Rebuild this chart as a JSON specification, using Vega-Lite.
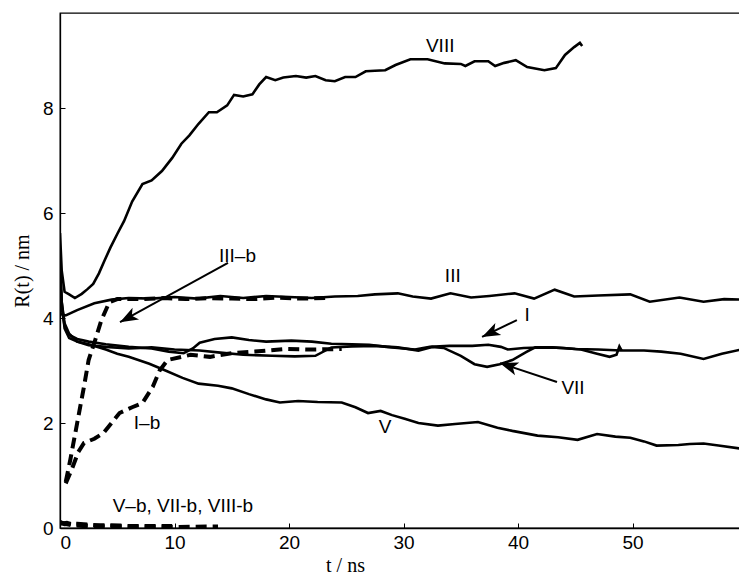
{
  "$schema": "https://vega.github.io/schema/vega-lite/v6.json",
  "width": 681,
  "height": 515,
  "autosize": {"type": "none"},
  "padding": {"left": 60, "top": 13, "right": 0, "bottom": 49},
  "background": "white",
  "view": {"stroke": "black", "strokeWidth": 1.3},
  "config": {
    "axis": {
      "grid": false,
      "domainColor": "black",
      "domainWidth": 1.3,
      "tickColor": "black",
      "tickSize": -5,
      "labelFont": "Liberation Sans",
      "labelFontSize": 19,
      "labelColor": "black",
      "titleFont": "Liberation Serif",
      "titleFontSize": 20,
      "titleFontWeight": "normal",
      "titleColor": "black"
    }
  },
  "datasets": {
    "curves": [
      {"s":"VIII","t":0,"r":5.62},{"s":"VIII","t":0.15,"r":4.9},{"s":"VIII","t":0.4,"r":4.5},{"s":"VIII","t":0.8,"r":4.45},{"s":"VIII","t":1.3,"r":4.38},{"s":"VIII","t":1.9,"r":4.46},{"s":"VIII","t":2.4,"r":4.55},{"s":"VIII","t":2.9,"r":4.65},{"s":"VIII","t":3.4,"r":4.85},{"s":"VIII","t":3.9,"r":5.1},{"s":"VIII","t":4.4,"r":5.34},{"s":"VIII","t":5.0,"r":5.6},{"s":"VIII","t":5.6,"r":5.85},{"s":"VIII","t":6.3,"r":6.22},{"s":"VIII","t":7.2,"r":6.55},{"s":"VIII","t":8.0,"r":6.62},{"s":"VIII","t":8.9,"r":6.8},{"s":"VIII","t":9.8,"r":7.05},{"s":"VIII","t":10.6,"r":7.32},{"s":"VIII","t":11.3,"r":7.48},{"s":"VIII","t":12.1,"r":7.7},{"s":"VIII","t":13.0,"r":7.92},{"s":"VIII","t":13.7,"r":7.92},{"s":"VIII","t":14.6,"r":8.05},{"s":"VIII","t":15.2,"r":8.25},{"s":"VIII","t":16.0,"r":8.22},{"s":"VIII","t":16.8,"r":8.26},{"s":"VIII","t":17.4,"r":8.45},{"s":"VIII","t":18.0,"r":8.59},{"s":"VIII","t":18.8,"r":8.53},{"s":"VIII","t":19.5,"r":8.58},{"s":"VIII","t":20.6,"r":8.61},{"s":"VIII","t":21.5,"r":8.58},{"s":"VIII","t":22.3,"r":8.61},{"s":"VIII","t":23.2,"r":8.53},{"s":"VIII","t":24.0,"r":8.51},{"s":"VIII","t":24.9,"r":8.59},{"s":"VIII","t":25.8,"r":8.59},{"s":"VIII","t":26.7,"r":8.7},{"s":"VIII","t":27.5,"r":8.71},{"s":"VIII","t":28.4,"r":8.72},{"s":"VIII","t":29.3,"r":8.82},{"s":"VIII","t":30.6,"r":8.93},{"s":"VIII","t":32.1,"r":8.93},{"s":"VIII","t":33.6,"r":8.85},{"s":"VIII","t":35.0,"r":8.84},{"s":"VIII","t":35.4,"r":8.8},{"s":"VIII","t":36.2,"r":8.89},{"s":"VIII","t":37.4,"r":8.89},{"s":"VIII","t":38.0,"r":8.8},{"s":"VIII","t":38.8,"r":8.86},{"s":"VIII","t":39.8,"r":8.91},{"s":"VIII","t":40.8,"r":8.78},{"s":"VIII","t":42.3,"r":8.72},{"s":"VIII","t":43.3,"r":8.76},{"s":"VIII","t":44.1,"r":9.01},{"s":"VIII","t":44.9,"r":9.16},{"s":"VIII","t":45.4,"r":9.24},{"s":"VIII","t":45.6,"r":9.18},

      {"s":"III","t":0,"r":4.08},{"s":"III","t":0.5,"r":4.05},{"s":"III","t":1.5,"r":4.15},{"s":"III","t":3,"r":4.28},{"s":"III","t":4.5,"r":4.35},{"s":"III","t":6,"r":4.38},{"s":"III","t":8,"r":4.37},{"s":"III","t":10,"r":4.4},{"s":"III","t":12,"r":4.37},{"s":"III","t":14,"r":4.42},{"s":"III","t":16,"r":4.38},{"s":"III","t":18,"r":4.42},{"s":"III","t":20,"r":4.4},{"s":"III","t":22,"r":4.38},{"s":"III","t":24,"r":4.41},{"s":"III","t":26,"r":4.42},{"s":"III","t":27.5,"r":4.45},{"s":"III","t":29.5,"r":4.47},{"s":"III","t":30.8,"r":4.41},{"s":"III","t":32.4,"r":4.37},{"s":"III","t":34.1,"r":4.47},{"s":"III","t":35.9,"r":4.39},{"s":"III","t":37.5,"r":4.42},{"s":"III","t":39.7,"r":4.47},{"s":"III","t":41.4,"r":4.37},{"s":"III","t":43.2,"r":4.54},{"s":"III","t":44.9,"r":4.41},{"s":"III","t":47,"r":4.43},{"s":"III","t":49.8,"r":4.45},{"s":"III","t":51.5,"r":4.31},{"s":"III","t":54.1,"r":4.39},{"s":"III","t":56.2,"r":4.31},{"s":"III","t":58,"r":4.36},{"s":"III","t":59.5,"r":4.35},

      {"s":"V","t":0,"r":5.2},{"s":"V","t":0.15,"r":4.3},{"s":"V","t":0.4,"r":3.8},{"s":"V","t":0.8,"r":3.62},{"s":"V","t":1.5,"r":3.55},{"s":"V","t":2.5,"r":3.5},{"s":"V","t":4,"r":3.4},{"s":"V","t":5,"r":3.32},{"s":"V","t":6,"r":3.26},{"s":"V","t":7.8,"r":3.13},{"s":"V","t":9,"r":3.02},{"s":"V","t":10.7,"r":2.86},{"s":"V","t":12.1,"r":2.75},{"s":"V","t":13.8,"r":2.71},{"s":"V","t":15,"r":2.66},{"s":"V","t":16.5,"r":2.55},{"s":"V","t":18,"r":2.45},{"s":"V","t":19.2,"r":2.39},{"s":"V","t":20.8,"r":2.42},{"s":"V","t":22.5,"r":2.4},{"s":"V","t":24.6,"r":2.39},{"s":"V","t":25.8,"r":2.3},{"s":"V","t":26.9,"r":2.19},{"s":"V","t":28,"r":2.23},{"s":"V","t":29,"r":2.15},{"s":"V","t":30.1,"r":2.08},{"s":"V","t":31.3,"r":2.0},{"s":"V","t":33,"r":1.95},{"s":"V","t":34.5,"r":1.98},{"s":"V","t":36.5,"r":2.02},{"s":"V","t":38.2,"r":1.91},{"s":"V","t":39.5,"r":1.85},{"s":"V","t":41.7,"r":1.76},{"s":"V","t":43.5,"r":1.73},{"s":"V","t":45.2,"r":1.68},{"s":"V","t":46.9,"r":1.79},{"s":"V","t":48.5,"r":1.74},{"s":"V","t":49.8,"r":1.72},{"s":"V","t":51,"r":1.65},{"s":"V","t":52.1,"r":1.57},{"s":"V","t":54,"r":1.58},{"s":"V","t":55,"r":1.6},{"s":"V","t":56.2,"r":1.61},{"s":"V","t":57.5,"r":1.57},{"s":"V","t":59.5,"r":1.51},

      {"s":"I","t":0,"r":4.8},{"s":"I","t":0.15,"r":4.2},{"s":"I","t":0.4,"r":3.85},{"s":"I","t":0.8,"r":3.68},{"s":"I","t":1.5,"r":3.6},{"s":"I","t":2.5,"r":3.55},{"s":"I","t":4,"r":3.5},{"s":"I","t":6,"r":3.45},{"s":"I","t":8,"r":3.42},{"s":"I","t":9.5,"r":3.36},{"s":"I","t":10.8,"r":3.33},{"s":"I","t":11.6,"r":3.42},{"s":"I","t":12.2,"r":3.53},{"s":"I","t":13.5,"r":3.6},{"s":"I","t":15,"r":3.63},{"s":"I","t":16.5,"r":3.58},{"s":"I","t":18,"r":3.55},{"s":"I","t":20.2,"r":3.57},{"s":"I","t":22,"r":3.55},{"s":"I","t":23.7,"r":3.51},{"s":"I","t":25.5,"r":3.5},{"s":"I","t":27,"r":3.49},{"s":"I","t":28.5,"r":3.45},{"s":"I","t":30,"r":3.42},{"s":"I","t":31,"r":3.4},{"s":"I","t":32.3,"r":3.45},{"s":"I","t":34,"r":3.47},{"s":"I","t":36,"r":3.47},{"s":"I","t":37.4,"r":3.49},{"s":"I","t":38.5,"r":3.45},{"s":"I","t":39.1,"r":3.4},{"s":"I","t":40.5,"r":3.43},{"s":"I","t":42.6,"r":3.44},{"s":"I","t":44,"r":3.43},{"s":"I","t":45.5,"r":3.4},{"s":"I","t":46.9,"r":3.32},{"s":"I","t":48.0,"r":3.26},{"s":"I","t":48.6,"r":3.3},{"s":"I","t":48.85,"r":3.46},{"s":"I","t":49.05,"r":3.38},

      {"s":"VII","t":0,"r":5.0},{"s":"VII","t":0.15,"r":4.3},{"s":"VII","t":0.4,"r":3.9},{"s":"VII","t":0.8,"r":3.7},{"s":"VII","t":1.5,"r":3.55},{"s":"VII","t":2.5,"r":3.48},{"s":"VII","t":4,"r":3.45},{"s":"VII","t":6,"r":3.42},{"s":"VII","t":8,"r":3.44},{"s":"VII","t":10,"r":3.4},{"s":"VII","t":12.2,"r":3.38},{"s":"VII","t":14,"r":3.34},{"s":"VII","t":16,"r":3.3},{"s":"VII","t":18.5,"r":3.28},{"s":"VII","t":20.5,"r":3.27},{"s":"VII","t":22.3,"r":3.28},{"s":"VII","t":23.7,"r":3.44},{"s":"VII","t":25.5,"r":3.46},{"s":"VII","t":27.5,"r":3.47},{"s":"VII","t":29.5,"r":3.44},{"s":"VII","t":31.3,"r":3.38},{"s":"VII","t":32.5,"r":3.45},{"s":"VII","t":33.5,"r":3.43},{"s":"VII","t":35,"r":3.28},{"s":"VII","t":36.2,"r":3.12},{"s":"VII","t":37.3,"r":3.07},{"s":"VII","t":38.4,"r":3.12},{"s":"VII","t":39.5,"r":3.2},{"s":"VII","t":40.7,"r":3.35},{"s":"VII","t":41.5,"r":3.44},{"s":"VII","t":43,"r":3.44},{"s":"VII","t":45,"r":3.41},{"s":"VII","t":47,"r":3.4},{"s":"VII","t":49,"r":3.38},{"s":"VII","t":51,"r":3.38},{"s":"VII","t":52.5,"r":3.36},{"s":"VII","t":54.2,"r":3.32},{"s":"VII","t":56.2,"r":3.22},{"s":"VII","t":57.8,"r":3.32},{"s":"VII","t":59.5,"r":3.4},

      {"s":"III-b","t":0.5,"r":0.88},{"s":"III-b","t":0.9,"r":1.3},{"s":"III-b","t":1.5,"r":2.0},{"s":"III-b","t":2.1,"r":2.7},{"s":"III-b","t":2.5,"r":3.2},{"s":"III-b","t":3.1,"r":3.6},{"s":"III-b","t":3.6,"r":3.95},{"s":"III-b","t":4.3,"r":4.3},{"s":"III-b","t":5,"r":4.36},{"s":"III-b","t":7,"r":4.36},{"s":"III-b","t":9,"r":4.38},{"s":"III-b","t":11,"r":4.36},{"s":"III-b","t":13,"r":4.38},{"s":"III-b","t":15,"r":4.37},{"s":"III-b","t":17,"r":4.36},{"s":"III-b","t":19,"r":4.39},{"s":"III-b","t":21,"r":4.37},{"s":"III-b","t":23.3,"r":4.38},

      {"s":"I-b","t":0.5,"r":0.85},{"s":"I-b","t":1.0,"r":1.1},{"s":"I-b","t":1.6,"r":1.45},{"s":"I-b","t":2.1,"r":1.62},{"s":"I-b","t":3.0,"r":1.7},{"s":"I-b","t":3.8,"r":1.81},{"s":"I-b","t":5.2,"r":2.19},{"s":"I-b","t":6.3,"r":2.3},{"s":"I-b","t":7.2,"r":2.38},{"s":"I-b","t":8.1,"r":2.69},{"s":"I-b","t":8.7,"r":3.0},{"s":"I-b","t":9.4,"r":3.2},{"s":"I-b","t":11.4,"r":3.3},{"s":"I-b","t":13.1,"r":3.26},{"s":"I-b","t":15,"r":3.33},{"s":"I-b","t":17,"r":3.36},{"s":"I-b","t":19.6,"r":3.41},{"s":"I-b","t":22,"r":3.4},{"s":"I-b","t":24.6,"r":3.41},

      {"s":"V-b","t":0,"r":0.1},{"s":"V-b","t":0.5,"r":0.08},{"s":"V-b","t":1,"r":0.05},{"s":"V-b","t":2,"r":0.04},{"s":"V-b","t":4,"r":0.03},{"s":"V-b","t":7,"r":0.03},{"s":"V-b","t":10,"r":0.02},{"s":"V-b","t":13.8,"r":0.03},
      {"s":"VII-b","t":0,"r":0.08},{"s":"VII-b","t":0.6,"r":0.1},{"s":"VII-b","t":1.2,"r":0.06},{"s":"VII-b","t":3,"r":0.05},{"s":"VII-b","t":6,"r":0.04},{"s":"VII-b","t":9.8,"r":0.04},
      {"s":"VIII-b","t":0,"r":0.12},{"s":"VIII-b","t":0.4,"r":0.07},{"s":"VIII-b","t":1.5,"r":0.08},{"s":"VIII-b","t":3.5,"r":0.05},{"s":"VIII-b","t":5.5,"r":0.04}
    ],
    "labels": [
      {"text":"VIII","t":33.2,"r":9.18,"a":"center"},
      {"text":"III–b","t":15.5,"r":5.18,"a":"center"},
      {"text":"III","t":34.3,"r":4.8,"a":"center"},
      {"text":"I","t":40.8,"r":4.06,"a":"center"},
      {"text":"VII","t":44.8,"r":2.67,"a":"center"},
      {"text":"I–b","t":7.6,"r":2.0,"a":"center"},
      {"text":"V","t":28.4,"r":1.92,"a":"center"},
      {"text":"V–b, VII-b, VIII-b","t":4.6,"r":0.42,"a":"left"}
    ],
    "arrows": [
      {"id":"III-b","t":14.67,"r":5.05,"t2":5.24,"r2":3.92},
      {"id":"I","t":39.9,"r":3.96,"t2":36.86,"r2":3.64},
      {"id":"VII","t":43.4,"r":2.78,"t2":38.43,"r2":3.14}
    ]
  },
  "layer": [
    {
      "data": {"name": "curves"},
      "transform": [{"filter": {"field": "s", "oneOf": ["VIII","III","V","I","VII"]}}],
      "mark": {"type": "line", "color": "black", "strokeWidth": 2.6, "clip": true},
      "encoding": {
        "x": {"field": "t", "type": "quantitative", "scale": {"domain": [0, 59.47], "nice": false, "zero": false},
              "axis": {"values": [0,10,20,30,40,50], "title": "t  /  ns", "labelPadding": 10, "titlePadding": 3, "titleX": 285}},
        "y": {"field": "r", "type": "quantitative", "scale": {"domain": [0, 9.81], "nice": false, "zero": false},
              "axis": {"values": [0,2,4,6,8], "title": "R(t)  /  nm", "labelPadding": 12, "titlePadding": 10}},
        "detail": {"field": "s"}
      }
    },
    {
      "data": {"name": "curves"},
      "transform": [{"filter": {"field": "s", "oneOf": ["III-b","I-b","V-b","VII-b","VIII-b"]}}],
      "mark": {"type": "line", "color": "black", "strokeWidth": 4, "strokeDash": [11, 6], "clip": true},
      "encoding": {
        "x": {"field": "t", "type": "quantitative"},
        "y": {"field": "r", "type": "quantitative"},
        "detail": {"field": "s"}
      }
    },
    {
      "data": {"name": "arrows"},
      "mark": {"type": "rule", "color": "black", "strokeWidth": 2},
      "encoding": {
        "x": {"field": "t", "type": "quantitative"},
        "y": {"field": "r", "type": "quantitative"},
        "x2": {"field": "t2"},
        "y2": {"field": "r2"}
      }
    },
    {
      "data": {"name": "arrows"},
      "transform": [{"filter": {"field": "id", "equal": "III-b"}}],
      "mark": {"type": "point", "shape": "M 0 0 L -2 -0.75 L -1.5 0 L -2 0.75 Z", "filled": true, "color": "black", "opacity": 1, "size": 324, "angle": 151.4},
      "encoding": {"x": {"field": "t2", "type": "quantitative"}, "y": {"field": "r2", "type": "quantitative"}}
    },
    {
      "data": {"name": "arrows"},
      "transform": [{"filter": {"field": "id", "equal": "I"}}],
      "mark": {"type": "point", "shape": "M 0 0 L -2 -0.75 L -1.5 0 L -2 0.75 Z", "filled": true, "color": "black", "opacity": 1, "size": 324, "angle": 154.1},
      "encoding": {"x": {"field": "t2", "type": "quantitative"}, "y": {"field": "r2", "type": "quantitative"}}
    },
    {
      "data": {"name": "arrows"},
      "transform": [{"filter": {"field": "id", "equal": "VII"}}],
      "mark": {"type": "point", "shape": "M 0 0 L -2 -0.75 L -1.5 0 L -2 0.75 Z", "filled": true, "color": "black", "opacity": 1, "size": 324, "angle": 198.4},
      "encoding": {"x": {"field": "t2", "type": "quantitative"}, "y": {"field": "r2", "type": "quantitative"}}
    },
    {
      "data": {"name": "labels"},
      "transform": [{"filter": {"field": "a", "equal": "center"}}],
      "mark": {"type": "text", "font": "Liberation Sans", "fontSize": 19, "color": "black", "align": "center", "baseline": "middle"},
      "encoding": {"x": {"field": "t", "type": "quantitative"}, "y": {"field": "r", "type": "quantitative"}, "text": {"field": "text"}}
    },
    {
      "data": {"name": "labels"},
      "transform": [{"filter": {"field": "a", "equal": "left"}}],
      "mark": {"type": "text", "font": "Liberation Sans", "fontSize": 19, "color": "black", "align": "left", "baseline": "middle"},
      "encoding": {"x": {"field": "t", "type": "quantitative"}, "y": {"field": "r", "type": "quantitative"}, "text": {"field": "text"}}
    }
  ]
}
